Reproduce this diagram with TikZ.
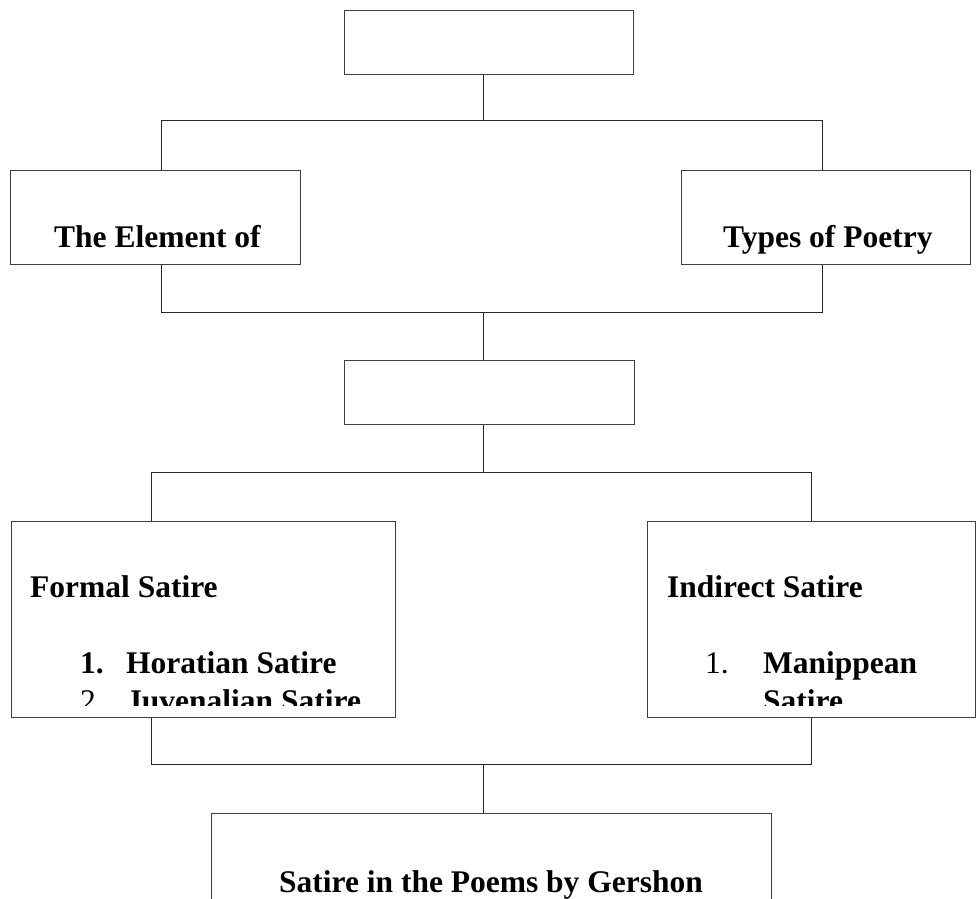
\documentclass[tikz,border=0pt]{standalone}
\usepackage{fontspec}
\setmainfont{Liberation Serif}

\tikzset{
  box/.style={draw=black!75, line width=0.9pt, inner sep=0pt, anchor=north west},
  link/.style={draw=black!85, line width=0.9pt},
  txt/.style={font=\fontsize{31.5}{37}\selectfont\bfseries, inner sep=0pt, anchor=base west},
  num/.style={font=\fontsize{31.5}{37}\selectfont, inner sep=0pt, anchor=base west}
}

\begin{document}
\begin{tikzpicture}[x=1pt,y=-1pt]
\useasboundingbox (0,0) rectangle (977,898);
\clip (0,0) rectangle (977,898);

% kvadrati
\node[box, minimum width=289pt, minimum height=64pt] (theme) at (344,10) {};
\node[box, minimum width=290pt, minimum height=94pt] (elem) at (10,170) {};
\node[box, minimum width=289pt, minimum height=94pt] (types) at (681,170) {};
\node[box, minimum width=290pt, minimum height=64pt] (satire) at (344,360) {};
\node[box, minimum width=384pt, minimum height=196pt] (formal) at (11,521) {};
\node[box, minimum width=328pt, minimum height=196pt] (indirect) at (647,521) {};
\node[box, minimum width=560pt, minimum height=120pt] (gershon) at (211,813) {};

% pomozna vozlisca
\coordinate (c1) at (483,120);
\coordinate (l1) at (161,120);
\coordinate (r1) at (822,120);
\coordinate (c2) at (483,312);
\coordinate (l2) at (161,312);
\coordinate (r2) at (822,312);
\coordinate (c3) at (483,472);
\coordinate (l3) at (151,472);
\coordinate (r3) at (811,472);
\coordinate (c4) at (483,764);
\coordinate (l4) at (151,764);
\coordinate (r4) at (811,764);

\draw[link] (theme.south -| c1)--(c1);
\draw[link] (elem.north -| l1)--(l1)--(r1)--(types.north -| r1);
\draw[link] (elem.south -| l2)--(l2)--(r2)--(types.south -| r2);
\draw[link] (c2)--(satire.north -| c2);
\draw[link] (satire.south -| c3)--(c3);
\draw[link] (formal.north -| l3)--(l3)--(r3)--(indirect.north -| r3);
\draw[link] (formal.south -| l4)--(l4)--(r4)--(indirect.south -| r4);
\draw[link] (c4)--(gershon.north -| c4);

% besedilo
\node[txt] (elemtxt) at (54,247) {The Element of};
\node[txt] (typestxt) at (723,247) {Types of Poetry};
\node[txt] (formaltxt) at (30,597) {Formal Satire};
\node[txt] (n1) at (80,673) {1.};
\node[txt] (horatian) at (126,673) {Horatian Satire};
\node[txt] (indirtxt) at (667,597) {Indirect Satire};
\node[num] (m1) at (705,673) {1.};
\node[txt] (manip) at (763,673) {Manippean};
\node[txt, anchor=base] (gertxt) at (491,892) {Satire in the Poems by Gershon};

\begin{scope}
\clip (0,521) rectangle (977,705);
\node[num] (n2) at (80,711) {2.};
\node[txt] (juvenal) at (126,711) {Juvenalian Satire};
\node[txt] (manip2) at (763,711) {Satire};
\end{scope}
\end{tikzpicture}
\end{document}
